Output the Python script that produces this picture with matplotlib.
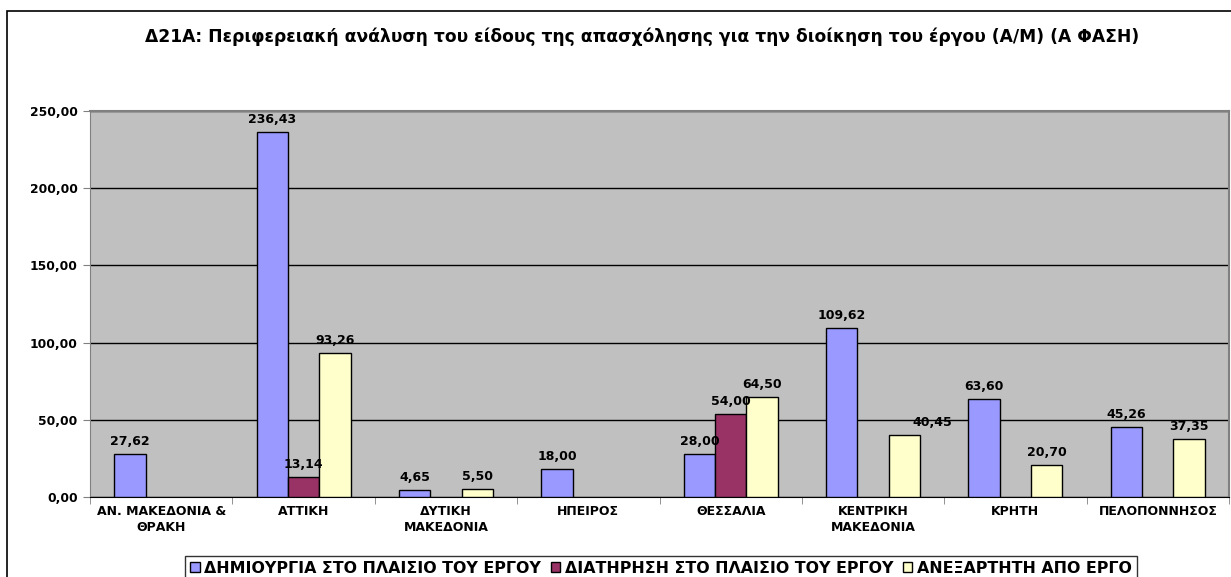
import numpy as np
import matplotlib
matplotlib.use('Agg')
import matplotlib.pyplot as plt
from matplotlib.patches import Rectangle, Patch
from matplotlib.ticker import FuncFormatter, FixedLocator

plt.rcParams['font.family'] = ['DejaVu Sans']

# Data
regions = ['ΑΝ. ΜΑΚΕΔΟΝΙΑ &\nΘΡΑΚΗ', 'ΑΤΤΙΚΗ', 'ΔΥΤΙΚΗ\nΜΑΚΕΔΟΝΙΑ', 'ΗΠΕΙΡΟΣ',
           'ΘΕΣΣΑΛΙΑ', 'ΚΕΝΤΡΙΚΗ\nΜΑΚΕΔΟΝΙΑ', 'ΚΡΗΤΗ', 'ΠΕΛΟΠΟΝΝΗΣΟΣ']
creation = [27.62, 236.43, 4.65, 18.00, 28.00, 109.62, 63.60, 45.26]
retention = [np.nan, 13.14, np.nan, np.nan, 54.00, np.nan, np.nan, np.nan]
independent = [np.nan, 93.26, 5.50, np.nan, 64.50, 40.45, 20.70, 37.35]
series_names = ['ΔΗΜΙΟΥΡΓΙΑ ΣΤΟ ΠΛΑΙΣΙΟ ΤΟΥ ΕΡΓΟΥ',
                'ΔΙΑΤΗΡΗΣΗ ΣΤΟ ΠΛΑΙΣΙΟ ΤΟΥ ΕΡΓΟΥ',
                'ΑΝΕΞΑΡΤΗΤΗ ΑΠΟ ΕΡΓΟ']
colors = ['#9999FF', '#993366', '#FFFFCC']
title = 'Δ21Α: Περιφερειακή ανάλυση του είδους της απασχόλησης για την διοίκηση του έργου (Α/Μ) (Α ΦΑΣΗ)'

fig = plt.figure(figsize=(12.31, 5.77), dpi=100)
fig.patch.set_facecolor('white')

# outer chart border (runs off the right/bottom of the image)
fig.add_artist(Rectangle((7 / 1231, -0.1), 1.2, (577 - 11) / 577 + 0.1,
                         transform=fig.transFigure, fill=False,
                         edgecolor='black', linewidth=1.2))

ax = fig.add_axes([90 / 1231, 80 / 577, (1229 - 90) / 1231, (497 - 111) / 577])
ax.set_facecolor('#C0C0C0')

x = np.arange(len(regions))
width = 0.22
all_series = [creation, retention, independent]
for i, (vals, col, name) in enumerate(zip(all_series, colors, series_names)):
    ax.bar(x + (i - 1) * width, vals, width, color=col, edgecolor='black',
           linewidth=1.0, label=name, zorder=3)
    for j, v in enumerate(vals):
        if np.isnan(v):
            continue
        dx = 28 if (i == 2 and j == 5) else 0  # Excel-shifted label
        ax.annotate(f'{v:.2f}'.replace('.', ','), xy=(x[j] + (i - 1) * width, v),
                    xytext=(dx, 6), textcoords='offset pixels',
                    ha='center', va='bottom', fontsize=9, fontweight='bold',
                    zorder=5)

ax.set_xlim(-0.5, len(regions) - 0.5)
ax.set_ylim(0, 250)
ax.set_yticks(np.arange(0, 251, 50))
ax.yaxis.set_major_formatter(FuncFormatter(lambda v, p: f'{v:.2f}'.replace('.', ',')))
ax.yaxis.grid(True, color='black', linewidth=1.0, zorder=1)
ax.set_axisbelow(True)

ax.set_xticks(x)
ax.set_xticklabels(regions, fontsize=9, fontweight='bold', linespacing=1.3)
ax.xaxis.set_minor_locator(FixedLocator(np.arange(-0.5, len(regions), 1.0)))
ax.tick_params(axis='x', which='major', length=0, pad=6)
ax.tick_params(axis='x', which='minor', length=5, color='#808080')
ax.tick_params(axis='y', length=5, color='#808080', labelsize=8.8, pad=4)
for lab in ax.get_yticklabels():
    lab.set_fontweight('bold')

for side in ['top', 'right']:
    ax.spines[side].set_color('#808080')
    ax.spines[side].set_linewidth(1.5)
ax.spines['left'].set_color('#808080')
ax.spines['bottom'].set_color('black')

fig.text(642 / 1231, 1 - 37 / 577, title, ha='center', va='center',
         fontsize=12.3, fontweight='bold')

handles = [Patch(facecolor=c, edgecolor='black', linewidth=1.0) for c in colors]
leg = fig.legend(handles, series_names, loc='upper center', ncol=3,
                 bbox_to_anchor=(661 / 1231, 1 - 556 / 577),
                 prop={'weight': 'bold', 'size': 11.4}, frameon=True, fancybox=False,
                 handlelength=0.6, handleheight=0.6, handletextpad=0.3,
                 columnspacing=0.6, borderpad=0.3, borderaxespad=0)
leg.get_frame().set_edgecolor('black')
leg.get_frame().set_linewidth(1.0)

fig.savefig('out.png', dpi=100)
